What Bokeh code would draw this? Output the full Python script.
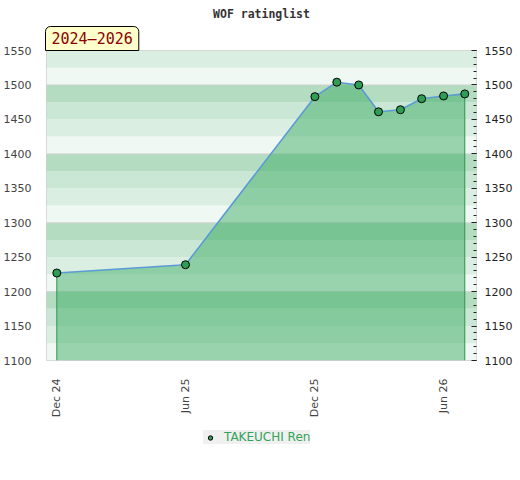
import math
import pandas as pd
from bokeh.plotting import figure
from bokeh.layouts import column
from bokeh.models import (Range1d, LinearAxis, SingleIntervalTicker, FixedTicker,
                          DatetimeTickFormatter, BoxAnnotation, Span, Title,
                          Legend, LegendItem, ColumnDataSource)
from bokeh.embed import file_html
from bokeh.resources import INLINE

# ---- data ----
dates = ["2024-12-01", "2025-06-01", "2025-12-01", "2026-01-01", "2026-02-01",
         "2026-03-01", "2026-04-01", "2026-05-01", "2026-06-01", "2026-07-01"]
ratings = [1227, 1239, 1483, 1504, 1500, 1461, 1464, 1480, 1484, 1487]
player = "TAKEUCHI Ren"
title_text = "WOF ratinglist"
period_text = "2024\u20132026"
tick_dates = ["2024-12-01", "2025-06-01", "2025-12-01", "2026-06-01"]
y_min, y_max = 1100, 1550
x_start, x_end = "2024-11-16 10:00", "2026-07-17 14:00"

xs = pd.to_datetime(pd.Series(dates))
src = ColumnDataSource(dict(x=xs, y=ratings, base=[y_min] * len(ratings)))

p = figure(frame_width=430, frame_height=310, x_axis_type="datetime",
           output_backend="svg", toolbar_location=None, title=None,
           min_border_left=37, min_border_right=10, min_border_top=10,
           min_border_bottom=0,
           x_range=Range1d(pd.Timestamp(x_start), pd.Timestamp(x_end)),
           y_range=Range1d(y_min, y_max))
p.background_fill_color = "white"
p.border_fill_color = "white"
p.outline_line_color = "#d0d0d0"
p.xgrid.visible = False
p.ygrid.visible = False

# background bands
band_colors = ["#eff8f2", "#dbeee2", "#c9e7d4", "#b3dcc1"]
edges = list(range(y_min, y_max, 25))
for i, b in enumerate(edges):
    p.add_layout(BoxAnnotation(bottom=b, top=b + 25, fill_color=band_colors[i % 4],
                               fill_alpha=1.0, line_color=None, level="underlay"))
for g in range(y_min + 100, y_max, 100):
    p.add_layout(Span(location=g, dimension="width", line_color="#d4d4d4",
                      line_width=1, level="underlay"))

# area
p.varea(x="x", y1="base", y2="y", source=src, fill_color="#37a960", fill_alpha=0.47)
first_last = ColumnDataSource(dict(x=[xs.iloc[0], xs.iloc[-1]],
                                   y0=[y_min, y_min],
                                   y1=[ratings[0], ratings[-1]]))
p.segment(x0="x", y0="y0", x1="x", y1="y1", source=first_last,
          line_color="#2f9350", line_width=1)
p.line(x="x", y="y", source=src, line_color="#5b9bd5", line_width=1.6)
p.scatter(x="x", y="y", source=src, size=8, fill_color="#2f9e55",
          line_color="black", line_width=1)

# axes
ax = p.xaxis[0]
ax.ticker = FixedTicker(ticks=[pd.Timestamp(d).value / 1e6 for d in tick_dates])
fmt = "%b %y"
ax.formatter = DatetimeTickFormatter(days=fmt, months=fmt, years=fmt, hours=fmt,
                                     minutes=fmt, seconds=fmt, milliseconds=fmt,
                                     microseconds=fmt, minsec=fmt, hourmin=fmt)
ax.major_label_orientation = math.pi / 2
ax.major_tick_line_color = None
ax.minor_tick_line_color = None
ax.axis_line_color = None
ax.major_label_standoff = 12
ax.major_label_text_font = "DejaVu Sans"
ax.major_label_text_font_size = "11px"
ax.major_label_text_color = "#444444"

ly = p.yaxis[0]
ly.ticker = SingleIntervalTicker(interval=50, num_minor_ticks=5)
ly.major_tick_line_color = None
ly.minor_tick_line_color = None
ly.axis_line_color = None
ly.major_label_standoff = 9
ly.major_label_text_font = "DejaVu Sans"
ly.major_label_text_font_size = "11px"
ly.major_label_text_color = "#444444"

ry = LinearAxis(ticker=SingleIntervalTicker(interval=50, num_minor_ticks=5))
ry.axis_line_color = None
ry.major_tick_in = 5
ry.major_tick_out = 0
ry.minor_tick_in = 3
ry.minor_tick_out = 0
ry.major_tick_line_color = "#222222"
ry.minor_tick_line_color = "#222222"
ry.major_label_standoff = 8
ry.major_label_text_font = "DejaVu Sans"
ry.major_label_text_font_size = "11px"
ry.major_label_text_color = "#222222"
p.add_layout(ry, "right")

# period box (closest to frame), then main title
p.add_layout(Title(text=period_text, align="left", offset=-1, standoff=0,
                   text_font="DejaVu Sans Mono", text_font_size="15px",
                   text_font_style="normal", text_color="#8b0000",
                   background_fill_color="#ffffcc", border_line_color="black",
                   border_line_width=1, padding=(6, 3),
                   border_radius=(5, 5, 0, 0)), "above")
p.add_layout(Title(text=title_text, align="center", standoff=8,
                   text_font="DejaVu Sans Mono", text_font_style="bold",
                   text_font_size="11.5px", text_color="#333333"), "above")

# legend strip below the chart
lf = figure(frame_width=430, frame_height=30, output_backend="svg",
            toolbar_location=None, min_border=0, x_axis_location=None,
            y_axis_location=None, x_range=Range1d(0, 1), y_range=Range1d(0, 1))
lf.outline_line_color = None
lf.xgrid.visible = False
lf.ygrid.visible = False
lf.background_fill_color = "white"
lf.border_fill_color = "white"
leg_src = ColumnDataSource(dict(x=[xs.iloc[0].value / 1e6], y=[ratings[0]]))
leg_r = lf.scatter(x="x", y="y", source=leg_src, size=8, fill_color="#2f9e55",
                   line_color="black", line_width=1)
legend = Legend(items=[LegendItem(label=player, renderers=[leg_r])],
                location=(203, 6), orientation="horizontal",
                background_fill_color="#f0f0f0", background_fill_alpha=1.0,
                border_line_color=None, padding=5, margin=0, spacing=0,
                glyph_width=14, glyph_height=11, label_height=11,
                label_standoff=7, label_text_font="DejaVu Sans",
                label_text_font_size="12px", label_text_color="#33a35a")
lf.add_layout(legend, "center")

layout = column(p, lf, spacing=0)
open("out.html", "w").write(file_html(layout, INLINE))
